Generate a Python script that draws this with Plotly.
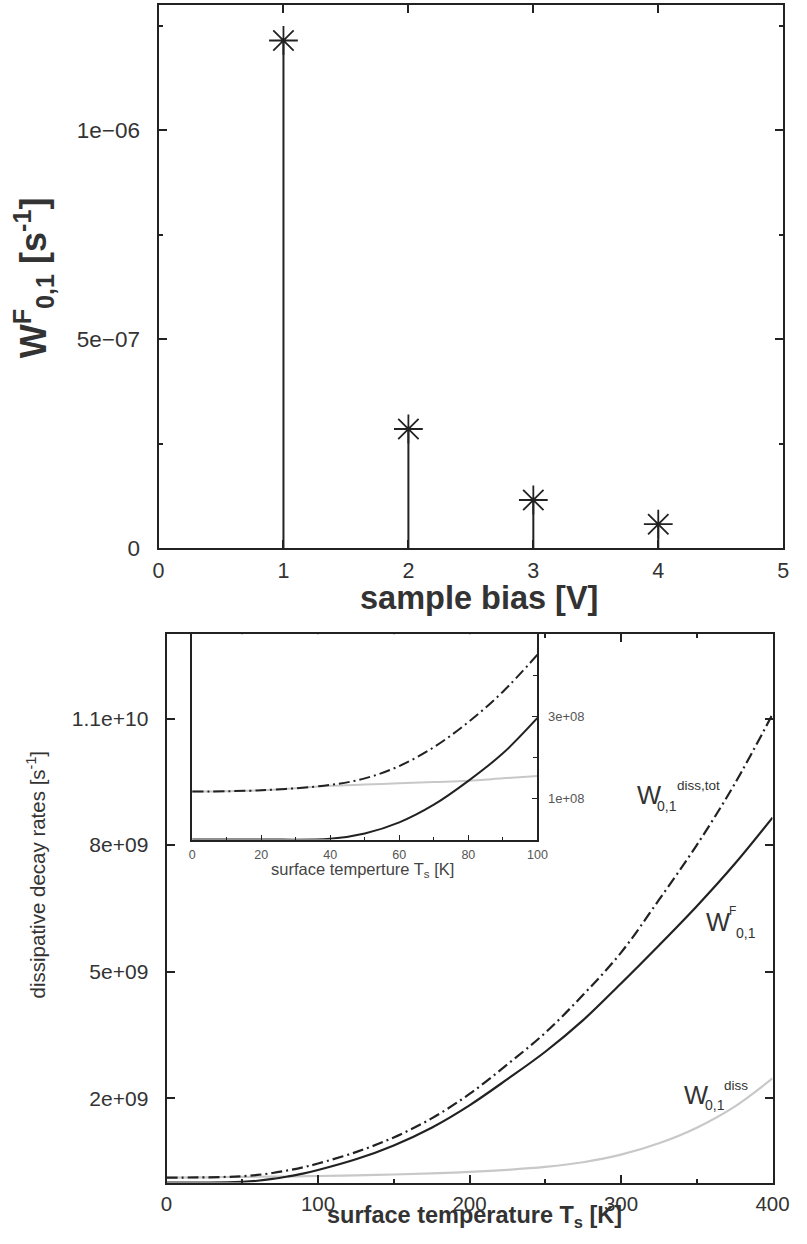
import plotly.graph_objects as go

# ---------------- data ----------------
bias_V = [1, 2, 3, 4]
wf_rate = [1.215e-06, 2.85e-07, 1.15e-07, 5.7e-08]

temp_K = [0, 20, 40, 50, 60, 70, 80, 90, 100, 125, 150, 175, 200, 225, 250,
          275, 300, 325, 350, 375, 400]
w_f = [0.0, 0.0, 0.002e9, 0.015e9, 0.042e9, 0.085e9, 0.143e9, 0.21e9, 0.296e9,
       0.55e9, 0.88e9, 1.3e9, 1.83e9, 2.45e9, 3.1e9, 3.85e9, 4.72e9, 5.62e9,
       6.55e9, 7.55e9, 8.65e9]
w_diss = [0.117e9, 0.12e9, 0.131e9, 0.134e9, 0.137e9, 0.14e9, 0.143e9, 0.149e9,
          0.155e9, 0.17e9, 0.19e9, 0.215e9, 0.25e9, 0.3e9, 0.37e9, 0.48e9,
          0.66e9, 0.93e9, 1.3e9, 1.8e9, 2.47e9]
w_tot = [0.117e9, 0.12e9, 0.133e9, 0.149e9, 0.179e9, 0.225e9, 0.286e9, 0.36e9,
         0.45e9, 0.72e9, 1.07e9, 1.52e9, 2.1e9, 2.8e9, 3.55e9, 4.45e9, 5.45e9,
         6.7e9, 8.0e9, 9.45e9, 11.1e9]
inset_max_T = 100

top_xticks = [0, 1, 2, 3, 4, 5]
top_yticks = [0, 5e-07, 1e-06]
top_ytext = ["0", "5e\u221207", "1e\u221206"]
bot_xticks = [0, 100, 200, 300, 400]
bot_yticks = [2e9, 5e9, 8e9, 1.1e10]
bot_ytext = ["2e+09", "5e+09", "8e+09", "1.1e+10"]
ins_xticks = [0, 20, 40, 60, 80, 100]
ins_yticks = [1e8, 3e8]
ins_ytext = ["1e+08", "3e+08"]

# ---------------- figure ----------------
W, H = 807, 1244
FONT = "Liberation Sans, Arial, Helvetica, sans-serif"
LINE = "#222222"
TXT = "#333333"
SX, OXP, SY = 0.9736, 4.14, 0.9877   # observed page-to-photo mapping

def px_x(p, cap=None):
    v = (p - OXP) / SX
    if cap is not None:
        v = min(v, cap)
    return min(max(v / W, 0.0), 1.0)

def px_y(p, cap=None):
    v = p / SY
    if cap is not None:
        v = min(v, cap)
    return min(max(1 - v / H, 0.0), 1.0)

fig = go.Figure()

# stems
sx, sy = [], []
for b, v in zip(bias_V, wf_rate):
    sx += [b, b, None]
    sy += [0, v, None]
fig.add_trace(go.Scatter(x=sx, y=sy, mode="lines", line=dict(color=LINE, width=2),
                         xaxis="x", yaxis="y", showlegend=False, hoverinfo="skip"))
fig.add_trace(go.Scatter(x=bias_V, y=wf_rate, mode="markers",
                         marker=dict(symbol="asterisk-open", size=24, color=LINE,
                                     line=dict(color=LINE, width=1.8)),
                         xaxis="x", yaxis="y", showlegend=False))

# main bottom plot + inset curves
n_in = sum(1 for t in temp_K if t <= inset_max_T)
for ax_x, ax_y, w, n in (("x2", "y2", 2.2, len(temp_K)), ("x3", "y3", 2.0, n_in)):
    fig.add_trace(go.Scatter(x=temp_K[:n], y=w_diss[:n], mode="lines", line_shape="spline",
                             line=dict(color="#c8c8c8", width=w),
                             xaxis=ax_x, yaxis=ax_y, showlegend=False))
    fig.add_trace(go.Scatter(x=temp_K[:n], y=w_tot[:n], mode="lines", line_shape="spline",
                             line=dict(color=LINE, width=w, dash="11px,4px,2px,4px"),
                             xaxis=ax_x, yaxis=ax_y, showlegend=False))
    fig.add_trace(go.Scatter(x=temp_K[:n], y=w_f[:n], mode="lines", line_shape="spline",
                             line=dict(color=LINE, width=w),
                             xaxis=ax_x, yaxis=ax_y, showlegend=False))

common = dict(showline=True, linecolor=LINE, linewidth=2, ticks="inside",
              tickcolor=LINE, showgrid=False, zeroline=False)

fig.update_layout(
    width=W, height=H, autosize=False,
    margin=dict(l=0, r=0, t=0, b=0),
    paper_bgcolor="white", plot_bgcolor="white",
    font=dict(family=FONT, color=TXT),
    xaxis=dict(domain=[px_x(157), px_x(800, cap=800)], range=[0, 5], anchor="y",
               tickvals=top_xticks, ticklen=8, tickwidth=1.5, mirror="ticks",
               tickfont=dict(size=21.5, color=TXT), ticklabelstandoff=2, **common),
    yaxis=dict(domain=[px_y(547), px_y(5)], range=[0, 1.3e-06], anchor="x",
               tickvals=top_yticks, ticktext=top_ytext, ticklen=8, tickwidth=1.5,
               mirror="ticks", tickfont=dict(size=22.5, color=TXT), ticklabelstandoff=12,
               minor=dict(tickvals=[2.5e-07, 7.5e-07, 1.25e-06], ticklen=4,
                          ticks="inside", tickcolor=LINE), **common),
    xaxis2=dict(domain=[px_x(165), px_x(785, cap=789)], range=[0, 400], anchor="y2",
                tickvals=bot_xticks, ticklen=8, tickwidth=1.5, mirror="ticks",
                tickfont=dict(size=20.5, color=TXT), ticklabelstandoff=2,
                minor=dict(tickvals=[50, 150, 250, 350], ticklen=4, ticks="inside",
                           tickcolor=LINE), **common),
    yaxis2=dict(domain=[px_y(1182.5, cap=1195), px_y(633)], range=[0, 1.3e10], anchor="x2",
                tickvals=bot_yticks, ticktext=bot_ytext, ticklen=8, tickwidth=1.5,
                mirror="ticks", tickfont=dict(size=21, color=TXT), ticklabelstandoff=12,
                **common),
    xaxis3=dict(domain=[px_x(190.7), px_x(536.7)], range=[0, 100], anchor="y3",
                tickvals=ins_xticks, ticklen=5, tickwidth=1.2, mirror=True,
                tickfont=dict(size=12.5, color="#555555"), ticklabelstandoff=2,
                minor=dict(tickvals=[10, 30, 50, 70, 90], ticklen=3, ticks="inside",
                           tickcolor=LINE), **common),
    yaxis3=dict(domain=[px_y(838), px_y(633)], range=[0, 5e8], anchor="x3",
                side="right", tickvals=ins_yticks, ticktext=ins_ytext, ticklen=5,
                tickwidth=1.2, mirror=True, tickfont=dict(size=13, color="#555555"),
                ticklabelstandoff=6,
                minor=dict(tickvals=[2e8, 4e8], ticklen=4, ticks="inside",
                           tickcolor=LINE), **common),
)

def ann(x, y, text, size, bold=False, angle=0, color=TXT, xanchor="center", ycap=None):
    t = f"<b>{text}</b>" if bold else text
    fig.add_annotation(x=px_x(x), y=px_y(y, cap=ycap), xref="paper", yref="paper", text=t,
                       showarrow=False, textangle=angle, xanchor=xanchor,
                       yanchor="middle", font=dict(family=FONT, size=size, color=color))

# axis titles
ann(32, 277, "W<sup>F</sup><sub>0,1</sub> [s<sup>-1</sup>]", 36, bold=True, angle=-90)
ann(478, 597, "sample bias [V]", 32.5, bold=True)
ann(34, 873, "dissipative decay rates [s<sup>-1</sup>]", 20.5, angle=-90)
ann(474, 1224, "surface temperature T<sub>s</sub> [K]", 23.5, bold=True, ycap=1229)
ann(361, 868, "surface temperture T<sub>s</sub> [K]", 16.5, color="#444444")

# curve labels
ann(635, 794, "W", 25.5, xanchor="left")
ann(655, 804, "0,1", 14, xanchor="left")
ann(675, 784, "diss,tot", 13.5, xanchor="left")

ann(704, 920, "W", 25.5, xanchor="left")
ann(727, 909, "F", 12, xanchor="left")
ann(734, 931, "0,1", 14, xanchor="left")

ann(682, 1093, "W", 25.5, xanchor="left")
ann(703, 1103, "0,1", 14, xanchor="left")
ann(722, 1083, "diss", 13.5, xanchor="left")

fig.write_html("out.html")
